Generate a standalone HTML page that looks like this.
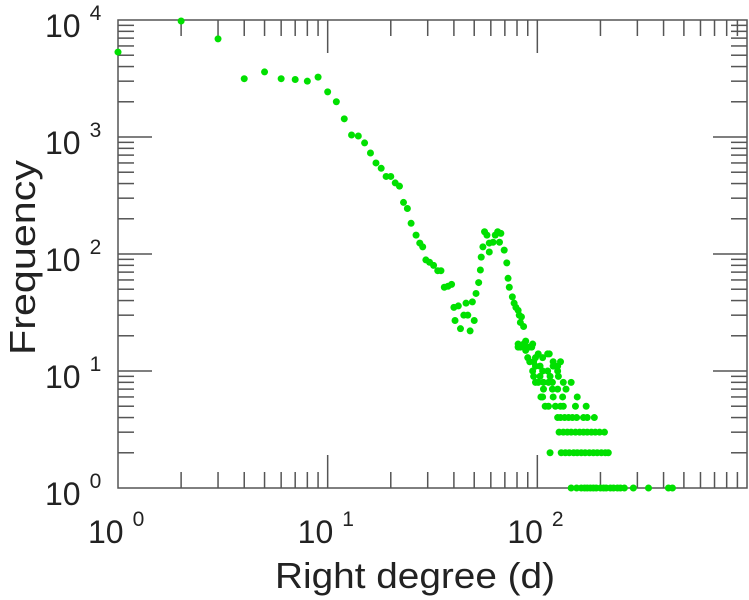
<!DOCTYPE html>
<html><head><meta charset="utf-8"><style>
body{margin:0;background:#fff;}
svg{display:block;font-family:"Liberation Sans",sans-serif;}
</style></head><body>
<svg id="chart" width="749" height="600"></svg>
<script>
const degrees=[1,2,3,4,5,6,7,8,9,10,11,12,13,14,15,16,17,18,19,20,21,22,23,24,25,26.4,27.5,28.4,29.4,30.6,32,33.5,34.7,36,37.5,39,
40,42,40.5,44.6,46.6,43,47.8,50,45.7,49,51,52.5,53.5,54,55,56,57.5,59,59,61.5,63,64.7,67,66,69.5,71.5,72.5,73.5,76,77.5,79,81,82,84,83,86,81,86,88,91.5,95,88,
81,83,88,94,
145,154,162,168,173,179,185,191,200,207,213,223,231,241,249,260,287,339,422,441,
115,130,136,142,149,155,162,169,177,185,193,202,211,218,
127,133,139,145,152,159,166,173,181,189,198,209,
125,129,135,141,147,154,166,173,187,
109,113,122,129,133,152,171,
104,106,119,132,155,
107,118,125,137,
98,101,107,113,118,133,145,
96,103,115,126,
95,106,112,125,
98,103,119,125,
92,96,119,129,
90,98,106,
101,112,114];
const freqs=[5320,9800,6900,3150,3600,3150,3100,3000,3250,2430,2000,1430,1040,1020,890,730,600,540,460,460,405,380,276,245,183,145,124,115,89,85,80,72,72,52,53,55,
35,36,27,30,30,23,22,27,38,39,46,57,73,94,115,155,145,124,104,126,145,155,150,126,108,84,62,52,43,38,35,33,30,29,26,24,17,17,18,16,17,15,
16,16,16,16,
1,1,1,1,1,1,1,1,1,1,1,1,1,1,1,1,1,1,1,1,
2,2,2,2,2,2,2,2,2,2,2,2,2,2,
3,3,3,3,3,3,3,3,3,3,3,3,
4,4,4,4,4,4,4,4,4,
5,5,5,5,5,5,5,
6,6,6,6,6,
7,7,7,7,
8,8,8,8,8,8,8,
9,9,9,9,
10,10,10,10,
11,11,11,11,
12,12,12,12,
13,13,13,
14,14,14];
const xTickExps=[0,1,2];
const yTickExps=[0,1,2,3,4];

const NS="http://www.w3.org/2000/svg";
const svg=document.getElementById('chart');
const L=118,R=747,T=20,B=488;
const xS=v=>L+(Math.log10(v)-0)/3*(R-L);
const yS=v=>B-(Math.log10(v)-0)/4*(B-T);
function mk(t,a,p){const e=document.createElementNS(NS,t);for(const k in a)e.setAttribute(k,a[k]);(p||svg).appendChild(e);return e;}

const axes=mk('g',{stroke:'#555','stroke-width':1.5});


const frame=mk('rect',{x:L,y:T,width:R-L,height:B-T,fill:'none'},axes);


for(let e=0;e<3;e++)for(let m=1;m<10;m++){const x=xS(m*Math.pow(10,e));const len=m===1?33:16;
 if(m===1&&e===0)continue;
 const t1=mk('line',{x1:x,x2:x,y1:B,y2:B-len},axes);
 const t2=mk('line',{x1:x,x2:x,y1:T,y2:T+len},axes);}
for(let e=0;e<4;e++)for(let m=1;m<10;m++){const y=yS(m*Math.pow(10,e));const len=m===1?34:16;
 if(m===1&&e===0)continue;
 const t1=mk('line',{x1:L,x2:L+len,y1:y,y2:y},axes);
 const t2=mk('line',{x1:R,x2:R-len,y1:y,y2:y},axes);}

function label(x,y,exp){
 const t=mk('text',{x:x,y:y,'font-size':32,fill:'#222'});
 
 
 t.appendChild(document.createTextNode('10'));
 const s=mk('tspan',{dx:9,dy:-17,'font-size':21},t);s.textContent=exp;
}
xTickExps.forEach(e=>label(xS(Math.pow(10,e))-30,543,e));
yTickExps.forEach(e=>label(45,yS(Math.pow(10,e))+17,e));

const pts=mk('g',{fill:'#00e000'});


degrees.forEach((d,i)=>{const c=mk('circle',{cx:xS(d),cy:yS(freqs[i]),r:3.5},pts);
 
 });

const xt=mk('text',{x:275,y:588,'font-size':36,fill:'#222',textLength:280,lengthAdjust:'spacingAndGlyphs'});


xt.textContent='Right degree (d)';
const yt=mk('text',{x:0,y:0,'font-size':36,fill:'#222',textLength:195,lengthAdjust:'spacingAndGlyphs',transform:'translate(35,355) rotate(-90)'});


yt.textContent='Frequency';
</script>
</body></html>
